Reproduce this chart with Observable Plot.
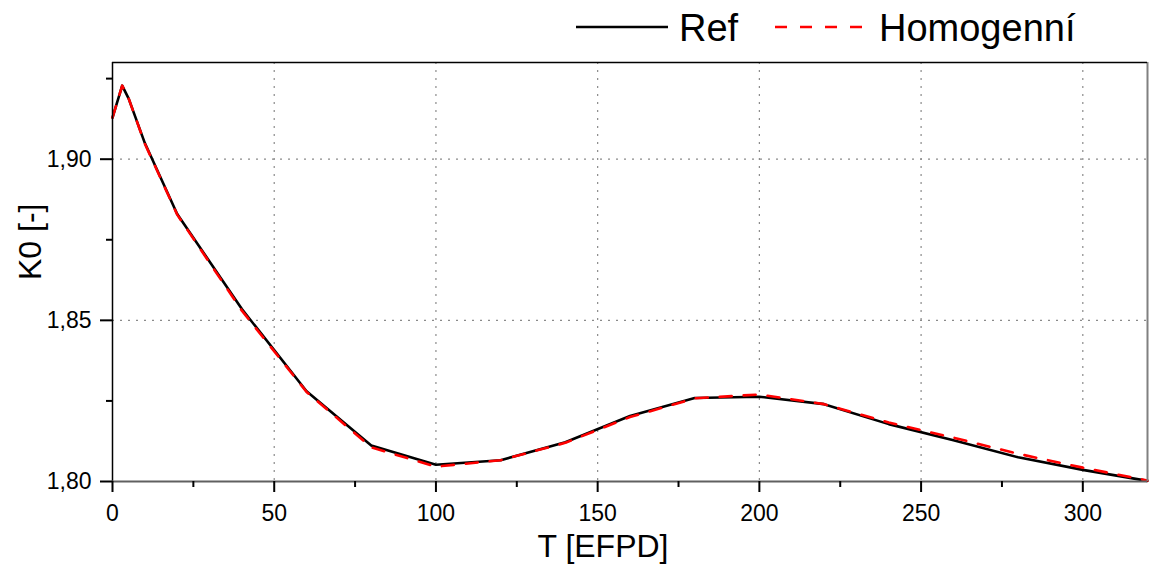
<!DOCTYPE html>
<html>
<head>
<meta charset="utf-8">
<script src="https://cdn.jsdelivr.net/npm/d3@7"></script>
<script src="https://cdn.jsdelivr.net/npm/@observablehq/plot@0.6"></script>
<style>
  html, body { margin: 0; padding: 0; background: #fff; }
  body { width: 1151px; height: 565px; overflow: hidden; font-family: "Liberation Sans", Arial, sans-serif; }
  #legend { position: relative; height: 55px; width: 1151px; }
  .lg-item { position: absolute; top: 6px; font-size: 38px; line-height: 44px; color: #000; }
  .lg-sw { position: absolute; top: 0; }
</style>
</head>
<body>
<div id="legend"></div>
<div id="chart"></div>
<script>
// Data
const T = [0, 3, 5, 10, 20, 40, 60, 80, 100, 120, 140, 160, 180, 200, 220, 240, 260, 280, 300, 320];
const refK = [1.9129, 1.9228, 1.9188, 1.9050, 1.8830, 1.8535, 1.8280, 1.8112, 1.8052, 1.8066, 1.8122, 1.8203, 1.8259, 1.8263, 1.8240, 1.8178, 1.8128, 1.8075, 1.8036, 1.8002];
const homK = [1.9129, 1.9228, 1.9188, 1.9048, 1.8828, 1.8530, 1.8278, 1.8106, 1.8046, 1.8066, 1.8120, 1.8200, 1.8258, 1.8270, 1.8240, 1.8183, 1.8136, 1.8086, 1.8043, 1.8003];
const seriesNames = ["Ref", "Homogenní"];
const xTicks = [0, 50, 100, 150, 200, 250, 300];
const xMinor = [25, 75, 125, 175, 225, 275];
const yTicks = [1.80, 1.85, 1.90];
const yMinor = [1.825, 1.875, 1.925];
const xDomain = [0, 320];
const yDomain = [1.80, 1.93];
const xTitle = "T [EFPD]";
const yTitle = "K0 [-]";

const refData = T.map((t, i) => ({T: t, K: refK[i]}));
const homData = T.map((t, i) => ({T: t, K: homK[i]}));
const fmt = d => d.toFixed(2).replace(".", ",");

// Legend (HTML, above the SVG)
const legend = document.getElementById("legend");
legend.innerHTML = `
  <svg class="lg-sw" width="1151" height="55" style="left:0">
    <line x1="576" x2="668" y1="27" y2="27" stroke="#000" stroke-width="2.5"/>
    <line x1="775" x2="864" y1="27" y2="27" stroke="#ff0000" stroke-width="2.5" stroke-dasharray="12,13"/>
  </svg>
  <div class="lg-item" style="left:679px">${seriesNames[0]}</div>
  <div class="lg-item" style="left:879px">${seriesNames[1]}</div>`;

const chart = Plot.plot({
  width: 1151,
  height: 510,
  marginTop: 7,
  marginLeft: 112,
  marginRight: 4,
  marginBottom: 84,
  style: {fontFamily: "'Liberation Sans', Arial, sans-serif", background: "#fff", color: "#000", overflow: "visible"},
  x: {domain: xDomain, label: null},
  y: {domain: yDomain, label: null},
  marks: [
    Plot.gridX(xTicks.filter(d => d > 0), {stroke: "#8a8a8a", strokeOpacity: 1, strokeDasharray: "2,6", strokeWidth: 1.2}),
    Plot.gridY(yTicks.filter(d => d > 1.80), {stroke: "#8a8a8a", strokeOpacity: 1, strokeDasharray: "2,6", strokeWidth: 1.2}),
    Plot.line(refData, {x: "T", y: "K", stroke: "#000", strokeWidth: 2.6}),
    Plot.line(homData, {x: "T", y: "K", stroke: "#ff0000", strokeWidth: 2.6, strokeDasharray: "12,12"}),
    Plot.ruleX([xDomain[1]], {stroke: "#808080", strokeWidth: 2}),
    Plot.ruleY([yDomain[1]], {stroke: "#000", strokeWidth: 1.5}),
    Plot.ruleX([xDomain[0]], {stroke: "#000", strokeWidth: 1.5}),
    Plot.ruleY([yDomain[0]], {stroke: "#606060", strokeWidth: 2}),
    Plot.axisX(xTicks, {tickSize: 11, tickPadding: 12, fontSize: 23, tickFormat: d => String(d), stroke: "#000", strokeWidth: 2, label: null}),
    Plot.axisX(xMinor, {tickSize: 6, tickFormat: () => "", stroke: "#000", strokeWidth: 2, label: null}),
    Plot.axisY(yTicks, {tickSize: 12, tickPadding: 9, fontSize: 23, tickFormat: fmt, stroke: "#000", strokeWidth: 2, label: null}),
    Plot.axisY(yMinor, {tickSize: 6, tickFormat: () => "", stroke: "#000", strokeWidth: 2, label: null}),
    Plot.text([xTitle], {frameAnchor: "bottom", dy: 65, dx: -27, fontSize: 32, lineAnchor: "middle", fill: "#000"}),
    Plot.text([yTitle], {frameAnchor: "left", dx: -82, dy: 8, rotate: -90, fontSize: 32, lineAnchor: "middle", fill: "#000"})
  ]
});
document.getElementById("chart").appendChild(chart);
</script>
</body>
</html>
